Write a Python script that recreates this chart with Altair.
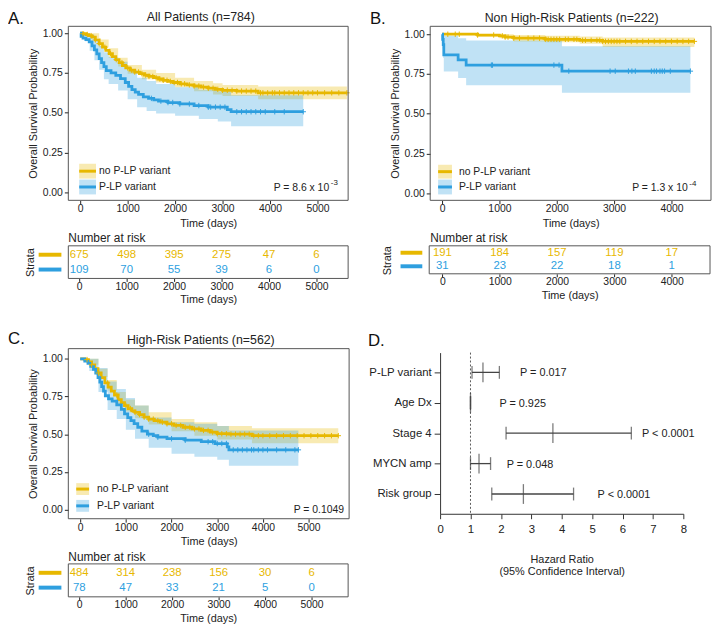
import altair as alt
import pandas as pd

# ---------------- data ----------------
GROUPS = ["no P-LP variant", "P-LP variant"]
YEL = "#E7B800"
BLU = "#2E9FDF"

# Panel A : All Patients (n=784)
a_no_t = [0, 60, 120, 180, 250, 320, 400, 470, 540, 610, 680, 750, 820, 890, 960, 1050, 1150, 1250, 1350, 1450,
          1550, 1650, 1750, 1850, 1950, 2100, 2250, 2400, 2550, 2700, 2850, 3000, 3300, 3750, 5620]
a_no_s = [1.0, 0.997, 0.992, 0.985, 0.975, 0.958, 0.935, 0.912, 0.892, 0.872, 0.853, 0.834, 0.815, 0.797, 0.782,
          0.768, 0.756, 0.746, 0.737, 0.728, 0.72, 0.712, 0.704, 0.697, 0.69, 0.682, 0.675, 0.668, 0.661, 0.654,
          0.647, 0.641, 0.636, 0.625, 0.625]
a_no_ci_t = [0, 200, 400, 600, 800, 1000, 1300, 1600, 2000, 2400, 2800, 3000, 3750, 5620]
a_no_lo = [1.0, 0.97, 0.91, 0.845, 0.79, 0.745, 0.71, 0.69, 0.66, 0.635, 0.615, 0.605, 0.585, 0.585]
a_no_hi = [1.0, 1.0, 0.96, 0.905, 0.845, 0.80, 0.77, 0.75, 0.72, 0.70, 0.685, 0.675, 0.665, 0.665]
a_no_cens = [60, 150, 230, 320, 400, 520, 640, 760, 880, 1000, 1080, 1150, 1230, 1300, 1380, 1450, 1530, 1600,
             1680, 1750, 1830, 1900, 1980, 2050, 2130, 2200, 2300, 2400, 2500, 2600, 2700, 2800, 2900, 3000, 3100,
             3200, 3300, 3400, 3500, 3600, 3700, 3800, 3850, 3950, 4050, 4100, 4200, 4300, 4400, 4500, 4600, 4700,
             4800, 4900, 5000, 5150, 5300, 5450, 5620]
a_p_t = [0, 20, 60, 120, 190, 250, 300, 350, 400, 450, 500, 550, 650, 750, 850, 950, 1020, 1090, 1160, 1230,
         1330, 1440, 1550, 1650, 1850, 2100, 2400, 2700, 3100, 3180, 4700]
a_p_s = [1.0, 0.98, 0.97, 0.96, 0.945, 0.92, 0.895, 0.87, 0.84, 0.815, 0.79, 0.765, 0.75, 0.735, 0.715, 0.69,
         0.665, 0.645, 0.63, 0.615, 0.60, 0.59, 0.58, 0.573, 0.564, 0.555, 0.545, 0.535, 0.52, 0.506, 0.506]
a_p_ci_t = [0, 100, 200, 300, 400, 500, 600, 800, 1000, 1200, 1400, 1600, 2000, 2500, 2900, 3180, 4700]
a_p_lo = [1.0, 0.95, 0.89, 0.83, 0.77, 0.71, 0.68, 0.64, 0.585, 0.535, 0.51, 0.495, 0.48, 0.46, 0.445, 0.415, 0.415]
a_p_hi = [1.0, 1.0, 0.99, 0.96, 0.92, 0.88, 0.85, 0.82, 0.765, 0.72, 0.70, 0.68, 0.66, 0.645, 0.635, 0.61, 0.61]
a_p_cens = [1500, 1700, 1850, 1950, 2100, 2300, 2500, 2700, 2750, 2850, 2950, 3050, 3300, 3400, 3500, 3600,
            3700, 3800, 3900, 4100, 4300, 4700]

# Panel B : Non High-Risk Patients (n=222)
b_no_t = [0, 620, 1000, 1100, 1250, 1800, 2400, 2800, 4400]
b_no_s = [1.0, 0.995, 0.99, 0.982, 0.975, 0.968, 0.962, 0.955, 0.955]
b_no_ci_t = [0, 620, 1000, 1250, 1800, 2400, 2800, 4400]
b_no_lo = [1.0, 0.985, 0.975, 0.955, 0.95, 0.94, 0.92, 0.92]
b_no_hi = [1.0, 1.0, 1.0, 0.995, 0.99, 0.985, 0.98, 0.98]
b_no_cens = [100, 230, 300, 620, 900, 1050, 1100, 1150, 1250, 1350, 1500, 1600, 1700, 1800, 1850, 1900, 1950,
             2000, 2050, 2150, 2200, 2300, 2350, 2450, 2500, 2600, 2700, 2750, 2800, 2850, 2900, 2950, 3000,
             3050, 3100, 3200, 3300, 3400, 3500, 3600, 3700, 3800, 3900, 4000, 4100, 4200, 4300, 4400]
b_p_t = [0, 10, 20, 30, 280, 420, 2090, 4330]
b_p_s = [1.0, 0.968, 0.935, 0.871, 0.839, 0.806, 0.768, 0.768]
b_p_ci_t = [0, 10, 20, 30, 280, 420, 2090, 4330]
b_p_lo = [1.0, 0.91, 0.85, 0.766, 0.725, 0.679, 0.632, 0.632]
b_p_hi = [1.0, 1.0, 1.0, 0.99, 0.975, 0.96, 0.925, 0.925]
b_p_cens = [860, 880, 1950, 2040, 2210, 2930, 3020, 3250, 3310, 3370, 3650, 3700, 3740, 3800, 3840, 3880,
            3980, 4330]

# Panel C : High-Risk Patients (n=562)
c_no_t = [0, 100, 180, 250, 320, 390, 460, 540, 610, 680, 750, 830, 900, 970, 1050, 1130, 1200, 1300, 1400,
          1500, 1620, 1750, 1900, 2050, 2250, 2450, 2650, 2850, 3000, 3250, 3760, 5650]
c_no_s = [1.0, 0.995, 0.98, 0.96, 0.935, 0.906, 0.875, 0.84, 0.812, 0.786, 0.76, 0.73, 0.71, 0.69, 0.67, 0.655,
          0.645, 0.63, 0.613, 0.60, 0.59, 0.58, 0.569, 0.558, 0.546, 0.535, 0.525, 0.514, 0.503, 0.50, 0.49, 0.49]
c_no_ci_t = [0, 200, 400, 600, 800, 1000, 1200, 1500, 2000, 2500, 3000, 3760, 5650]
c_no_lo = [1.0, 0.96, 0.88, 0.79, 0.70, 0.65, 0.605, 0.565, 0.52, 0.49, 0.465, 0.44, 0.435]
c_no_hi = [1.0, 1.0, 0.935, 0.86, 0.78, 0.73, 0.69, 0.645, 0.60, 0.58, 0.555, 0.54, 0.54]
c_no_cens = [150, 250, 400, 600, 800, 1000, 1100, 1200, 1300, 1400, 1500, 1600, 1700, 1800, 1900, 2000, 2100,
             2200, 2300, 2400, 2500, 2600, 2700, 2800, 2900, 3000, 3100, 3200, 3300, 3400, 3500, 3600, 3700,
             3800, 3900, 4000, 4150, 4300, 4450, 4600, 4750, 4900, 5050, 5200, 5350, 5500, 5650]
c_p_t = [0, 100, 170, 230, 290, 340, 390, 430, 470, 510, 550, 620, 700, 800, 900, 970, 1040, 1110, 1180, 1260,
         1350, 1470, 1600, 1700, 1900, 2300, 2650, 2950, 3220, 3255, 4776]
c_p_s = [1.0, 0.985, 0.97, 0.95, 0.93, 0.905, 0.875, 0.845, 0.815, 0.785, 0.755, 0.735, 0.72, 0.695, 0.665,
         0.635, 0.61, 0.59, 0.57, 0.546, 0.52, 0.50, 0.49, 0.48, 0.47, 0.46, 0.45, 0.438, 0.416, 0.396, 0.396]
c_p_ci_t = [0, 200, 400, 600, 800, 1000, 1200, 1500, 2000, 2500, 3000, 3255, 4776]
c_p_lo = [1.0, 0.92, 0.78, 0.66, 0.60, 0.53, 0.47, 0.41, 0.37, 0.35, 0.33, 0.29, 0.29]
c_p_hi = [1.0, 1.0, 0.94, 0.85, 0.80, 0.74, 0.69, 0.61, 0.58, 0.57, 0.555, 0.525, 0.525]
c_p_cens = [1500, 1700, 2000, 2300, 2800, 2900, 3000, 3100, 3200, 3350, 3450, 3550, 3650, 3750, 3800, 3900,
            4000, 4100, 4300, 4500, 4700, 4776]

# Number at risk tables
risk_times_ac = [0, 1000, 2000, 3000, 4000, 5000]
risk_times_b = [0, 1000, 2000, 3000, 4000]
a_risk_no = [675, 498, 395, 275, 47, 6]
a_risk_p = [109, 70, 55, 39, 6, 0]
b_risk_no = [191, 184, 157, 119, 17]
b_risk_p = [31, 23, 22, 18, 1]
c_risk_no = [484, 314, 238, 156, 30, 6]
c_risk_p = [78, 47, 33, 21, 5, 0]

# Panel D : hazard ratios
hr_vars = ["P-LP variant", "Age Dx", "Stage 4", "MYCN amp", "Risk group"]
hr_est = [1.41, 1.0, 3.71, 1.28, 2.74]
hr_lo = [1.05, 0.995, 2.17, 1.0, 1.70]
hr_hi = [1.95, 1.005, 6.29, 1.66, 4.39]
hr_p = ["P = 0.017", "P = 0.925", "P < 0.0001", "P = 0.048", "P < 0.0001"]
hr_p_pos = [2.63, 1.95, 6.64, 2.19, 5.18]

# ---------------- layout ----------------
W, H = 712, 620
FONT = "Liberation Sans"
TXT = "#222222"
FRAME = "#555555"
ONE = pd.DataFrame({"k": [0]})


def step_at(ts, ss, t):
    v = ss[0]
    for ti, si in zip(ts, ss):
        if ti <= t:
            v = si
        else:
            break
    return v


def km_panel(series, xdom, xrng, ydom, yrng, xvals):
    xs = alt.Scale(domain=xdom, range=xrng, nice=False, zero=False)
    ys = alt.Scale(domain=ydom, range=yrng, nice=False, zero=False)
    xa = alt.Axis(orient="bottom", offset=yrng[0] - H, values=xvals, format="d", title="Time (days)",
                  domain=False, grid=False, tickSize=3.5, tickColor=TXT, labelPadding=0, labelFontSize=10.5,
                  labelColor=TXT, labelFlush=False, labelOverlap=False, titleFontSize=11,
                  titleFontWeight="normal", titleColor=TXT, titlePadding=3)
    ya = alt.Axis(orient="left", offset=-xrng[0], values=[0, 0.25, 0.5, 0.75, 1.0], format=".2f",
                  title="Overall Survival Probability", domain=False, grid=False, tickSize=4, tickColor=TXT,
                  labelPadding=2, labelFontSize=10.5, labelColor=TXT, labelFlush=False, labelOverlap=False,
                  titleFontSize=11, titleFontWeight="normal", titleColor=TXT, titlePadding=4)

    def X(f):
        return alt.X(f, type="quantitative", scale=xs, axis=xa)

    def Y(f):
        return alt.Y(f, type="quantitative", scale=ys, axis=ya)

    ribbons, lines, marks = [], [], []
    for ts, ss, cit, lo, hi, cens, col in series:
        rib = pd.DataFrame({"t": cit, "lo": lo, "hi": hi})
        ribbons.append(alt.Chart(rib).mark_area(interpolate="step-after", orient="vertical", color=col,
                                                opacity=0.3).encode(x=X("t"), y=Y("lo"), y2="hi"))
        cur = pd.DataFrame({"t": ts, "s": ss})
        lines.append(alt.Chart(cur).mark_line(interpolate="step-after", color=col, strokeWidth=2.8)
                     .encode(x=X("t"), y=Y("s")))
        cd = pd.DataFrame({"t": cens, "s": [step_at(ts, ss, c) for c in cens]})
        marks.append(alt.Chart(cd).mark_point(shape="M-1,0H1M0,-1V1", filled=False, size=30, strokeWidth=1,
                                              color=col, opacity=1).encode(x=X("t"), y=Y("s")))
    frame = pd.DataFrame({"x0": [xdom[0]], "x1": [xdom[1]], "y0": [ydom[0]], "y1": [ydom[1]]})
    fr = alt.Chart(frame).mark_rect(fillOpacity=0, stroke=FRAME, strokeWidth=1).encode(
        x=X("x0"), x2="x1", y=Y("y0"), y2="y1")
    return alt.layer(*ribbons, *lines, *marks, fr)


def risk_panel(times, no_n, p_n, xdom, xrng, ydom, yrng, xvals):
    xs = alt.Scale(domain=xdom, range=xrng, nice=False, zero=False)
    ys = alt.Scale(domain=ydom, range=yrng, nice=False, zero=False)
    xa = alt.Axis(orient="bottom", offset=yrng[1] - H, values=xvals, format="d", title="Time (days)",
                  domain=False, grid=False, tickSize=3, tickColor=TXT, labelPadding=0, labelFontSize=10.5,
                  labelColor=TXT, labelFlush=False, labelOverlap=False, titleFontSize=11,
                  titleFontWeight="normal", titleColor=TXT, titlePadding=2)

    def X(f):
        return alt.X(f, type="quantitative", scale=xs, axis=xa)

    def Y(f):
        return alt.Y(f, type="quantitative", scale=ys, axis=None)

    layers = []
    for row, (vals, col) in enumerate([(no_n, YEL), (p_n, BLU)]):
        d = pd.DataFrame({"t": times, "row": [row] * len(times), "n": [str(v) for v in vals]})
        layers.append(alt.Chart(d).mark_text(fontSize=11.5, color=col, align="center", baseline="middle")
                      .encode(x=X("t"), y=Y("row"), text="n:N"))
    frame = pd.DataFrame({"x0": [xdom[0]], "x1": [xdom[1]], "y0": [ydom[0]], "y1": [ydom[1]]})
    layers.append(alt.Chart(frame).mark_rect(fillOpacity=0, stroke=FRAME, strokeWidth=1).encode(
        x=X("x0"), x2="x1", y=Y("y0"), y2="y1"))
    return alt.layer(*layers)


def forest_panel():
    xs = alt.Scale(domain=[0, 8], range=[437, 683], nice=False, zero=False)
    ys = alt.Scale(type="point", domain=hr_vars, range=[345, 508], padding=0.65)
    xa = alt.Axis(orient="bottom", offset=508 - H, values=list(range(9)), format="d",
                  title=["Hazard Ratio", "(95% Confidence Interval)"], domain=True, domainColor="#333333",
                  grid=False, tickSize=5, tickColor="#333333", labelPadding=5, labelFontSize=11.5,
                  labelColor=TXT, labelFlush=False, labelOverlap=False, titleFontSize=11,
                  titleFontWeight="normal", titleColor=TXT, titlePadding=19, titleLineHeight=12)
    ya = alt.Axis(orient="left", offset=-437, title=None, domain=True, domainColor="#333333", grid=False,
                  tickSize=6, tickColor="#333333", labelPadding=3, labelFontSize=11.5, labelColor=TXT)

    def X(f):
        return alt.X(f, type="quantitative", scale=xs, axis=xa)

    def Y(f):
        return alt.Y(f, type="nominal", scale=ys, axis=ya)

    d = pd.DataFrame({"var": hr_vars, "est": hr_est, "lo": hr_lo, "hi": hr_hi, "p": hr_p, "px": hr_p_pos})
    ref = pd.DataFrame({"x": [1]})
    col = "#444444"
    return alt.layer(
        alt.Chart(ref).mark_rule(strokeDash=[2, 2], color="#333333", strokeWidth=0.8).encode(
            x=X("x"), y=alt.value(345), y2=alt.value(508)),
        alt.Chart(d).mark_rule(color=col, strokeWidth=1.3).encode(x=X("lo"), x2="hi", y=Y("var")),
        alt.Chart(d).mark_tick(color=col, thickness=1.3, size=13).encode(x=X("lo"), y=Y("var")),
        alt.Chart(d).mark_tick(color=col, thickness=1.3, size=13).encode(x=X("hi"), y=Y("var")),
        alt.Chart(d).mark_tick(color=col, thickness=1.3, size=20).encode(x=X("est"), y=Y("var")),
        alt.Chart(d).mark_text(align="left", baseline="middle", fontSize=11, color=TXT, dy=1).encode(
            x=X("px"), y=Y("var"), text="p:N"),
    )


def label(text, x, y, size=11, align="left", baseline="middle", color=TXT, angle=0):
    return alt.Chart(ONE).mark_text(text=text, align=align, baseline=baseline, fontSize=size, color=color,
                                    angle=angle).encode(x=alt.value(x), y=alt.value(y))


def legend(x0, x1, rows, lx):
    out = []
    for (top, bot), name, col in zip(rows, GROUPS, [YEL, BLU]):
        out.append(alt.Chart(ONE).mark_rect(color=col, opacity=0.3).encode(
            x=alt.value(x0), x2=alt.value(x1), y=alt.value(top), y2=alt.value(bot)))
        out.append(alt.Chart(ONE).mark_rule(color=col, strokeWidth=3).encode(
            x=alt.value(x0), x2=alt.value(x1), y=alt.value((top + bot) / 2)))
        out.append(label(name, lx, (top + bot) / 2, size=10.5))
    return out


def strata(xc, yc, x0, x1, ys):
    out = [label("Strata", xc, yc, size=11, align="center", angle=270)]
    for y, col in zip(ys, [YEL, BLU]):
        out.append(alt.Chart(ONE).mark_rule(color=col, strokeWidth=4).encode(
            x=alt.value(x0), x2=alt.value(x1), y=alt.value(y)))
    return out


panelA = km_panel([(a_no_t, a_no_s, a_no_ci_t, a_no_lo, a_no_hi, a_no_cens, YEL),
                   (a_p_t, a_p_s, a_p_ci_t, a_p_lo, a_p_hi, a_p_cens, BLU)],
                  [-250, 5646], [61, 344], [-0.0516, 1.0436], [191, 15], [0, 1000, 2000, 3000, 4000, 5000])
panelB = km_panel([(b_no_t, b_no_s, b_no_ci_t, b_no_lo, b_no_hi, b_no_cens, YEL),
                   (b_p_t, b_p_s, b_p_ci_t, b_p_lo, b_p_hi, b_p_cens, BLU)],
                  [-207, 4690], [427, 711], [-0.0435, 1.0497], [191, 15], [0, 1000, 2000, 3000, 4000])
panelC = km_panel([(c_no_t, c_no_s, c_no_ci_t, c_no_lo, c_no_hi, c_no_cens, YEL),
                   (c_p_t, c_p_s, c_p_ci_t, c_p_lo, c_p_hi, c_p_cens, BLU)],
                  [-260, 5887], [61, 345], [-0.061, 1.0676], [513, 341], [0, 1000, 2000, 3000, 4000, 5000])

tableA = risk_panel(risk_times_ac, a_risk_no, a_risk_p, [-229, 5667], [61, 344], [-0.6, 1.6], [237, 270],
                    risk_times_ac)
tableB = risk_panel(risk_times_b, b_risk_no, b_risk_p, [-229, 4667], [426, 710], [-0.51, 1.55], [237, 265.3],
                    risk_times_b)
tableC = risk_panel(risk_times_ac, c_risk_no, c_risk_p, [-234, 5787], [61, 344], [-0.6, 1.62], [558.7, 592],
                    risk_times_ac)

forest = forest_panel()

annotations = [
    label("A.", 0, 13, size=17, baseline="alphabetic", color="#111111"),
    label("B.", 366, 13, size=17, baseline="alphabetic", color="#111111"),
    label("C.", 0, 336, size=17, baseline="alphabetic", color="#111111"),
    label("D.", 364, 338, size=17, baseline="alphabetic", color="#111111"),
    label("All Patients (n=784)", 195, 6, size=12.5, align="center"),
    label("Non High-Risk Patients (n=222)", 570, 7, size=12.5, align="center"),
    label("High-Risk Patients (n=562)", 195, 332, size=12.5, align="center"),
    label("P = 8.6 x 10", 268.7, 181.3, size=10.5, baseline="alphabetic"),
    label("-3", 326.5, 175.5, size=8, baseline="alphabetic"),
    label("P = 1.3 x 10", 631.3, 181.3, size=10.5, baseline="alphabetic"),
    label("-4", 689, 176.5, size=8, baseline="alphabetic"),
    label("P = 0.1049", 289, 507, size=10.5, baseline="alphabetic"),
    label("Number at risk", 61, 229.3, size=12),
    label("Number at risk", 427, 228.7, size=12),
    label("Number at risk", 61, 552, size=12),
]
annotations += legend(72, 89, [(154, 169), (170, 185)], 92)
annotations += legend(435, 449, [(155, 169), (170, 185)], 456)
annotations += legend(69, 82, [(477, 489), (494, 506)], 90)
annotations += strata(23.7, 254, 31, 54, [246, 261])
annotations += strata(384.3, 252, 397, 419, [244, 257.7])
annotations += strata(23.7, 576, 31, 54, [567.7, 582.7])

chart = alt.layer(panelA, tableA, panelB, tableB, panelC, tableC, forest, *annotations).resolve_scale(
    x="independent", y="independent").resolve_axis(x="independent", y="independent").properties(
    width=W, height=H, padding=0, autosize=alt.AutoSizeParams(type="none")).configure(
    font=FONT, view=alt.ViewConfig(strokeWidth=0))

chart.save("out.html", embed_options={"renderer": "svg", "actions": False})
